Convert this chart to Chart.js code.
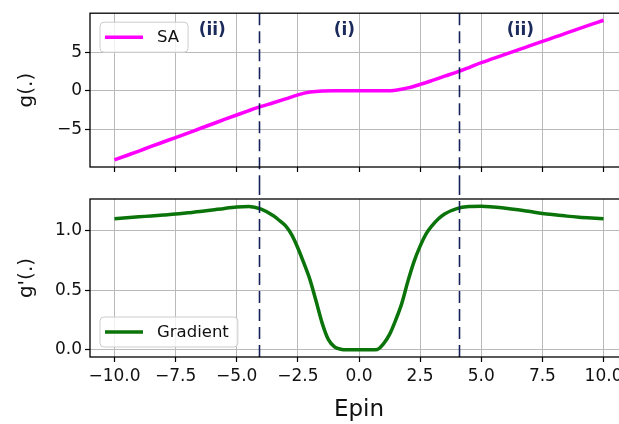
<!DOCTYPE html>
<html>
<head>
<meta charset="utf-8">
<script src="https://cdn.jsdelivr.net/npm/chart.js@4.4.1/dist/chart.umd.min.js"></script>
<style>
  html, body { margin: 0; padding: 0; background: #fff; }
  body { width: 619px; height: 424px; overflow: hidden; position: relative; }
  .panel { position: absolute; left: 0; }
  #top { top: 0; }
  #bottom { top: 183px; }
</style>
</head>
<body>
<div class="panel" id="top"><canvas id="chartTop" width="640" height="183"></canvas></div>
<div class="panel" id="bottom"><canvas id="chartBottom" width="640" height="241"></canvas></div>
<script>
// g(.) - SA, sampled on Epin
const saX = [-10, -9.5, -9, -8.5, -8, -7.5, -7, -6.5, -6, -5.5, -5, -4.5, -4, -3.5, -3, -2.5, -2, -1.5, -1, -0.5,
             0, 0.5, 1, 1.5, 2, 2.5, 3, 3.5, 4, 4.5, 5, 5.5, 6, 6.5, 7, 7.5, 8, 8.5, 9, 9.5, 10];
const saValues = [-8.96, -8.38, -7.8, -7.21, -6.63, -6.05, -5.47, -4.88, -4.3, -3.71, -3.13, -2.56, -2.02, -1.55, -1.05, -0.52, -0.16, -0.02, 0, 0,
                  0, 0, 0.01, 0.09, 0.38, 0.83, 1.35, 1.9, 2.42, 3.02, 3.65, 4.2, 4.75, 5.3, 5.85, 6.4, 6.95, 7.5, 8.05, 8.6, 9.15];

// g'(.) - Gradient (denser where it drops)
const gradX = [-10, -9.5, -9, -8.5, -8, -7.5, -7, -6.5, -6, -5.5, -5, -4.5, -4,
               -3.5, -3.25, -3, -2.75, -2.5, -2.25, -2, -1.75, -1.5, -1.25, -1, -0.75, -0.5,
               0, 0.5,
               0.75, 1, 1.25, 1.5, 1.75, 2, 2.25, 2.5, 2.75, 3, 3.25, 3.5,
               4, 4.5, 5, 5.5, 6, 6.5, 7, 7.5, 8, 8.5, 9, 9.5, 10];
const gradValues = [1.10, 1.108, 1.116, 1.124, 1.132, 1.14, 1.15, 1.16, 1.173, 1.187, 1.198, 1.202, 1.18,
                    1.125, 1.085, 1.04, 0.965, 0.855, 0.725, 0.585, 0.405, 0.22, 0.085, 0.025, 0.005, 0,
                    0, 0,
                    0.003, 0.05, 0.13, 0.25, 0.39, 0.575, 0.74, 0.87, 0.975, 1.045, 1.10, 1.14,
                    1.185, 1.202, 1.205, 1.198, 1.188, 1.175, 1.16, 1.145, 1.133, 1.122, 1.113, 1.106, 1.10];

const xTicks = [-10, -7.5, -5, -2.5, 0, 2.5, 5, 7.5, 10];
const xTickLabels = ['\u221210.0', '\u22127.5', '\u22125.0', '\u22122.5', '0.0', '2.5', '5.0', '7.5', '10.0'];
const topYTicks = [-5, 0, 5];
const topYTickLabels = ['\u22125', '0', '5'];
const bottomYTicks = [0, 0.5, 1];
const bottomYTickLabels = ['0.0', '0.5', '1.0'];

// region boundaries and names
const regionLines = [-4.1, 4.1];
const regionNames = ['(ii)', '(i)', '(ii)'];

const FONT = "'DejaVu Sans', sans-serif";

function pts(xv, yv) {
    return xv.map((x, i) => ({ x: x, y: yv[i] }));
}

const decor = {
    id: 'decor',
    afterDatasetsDraw(chart, args, opts) {
        const { ctx, chartArea: a } = chart;
        const x = chart.scales.x, y = chart.scales.y;
        ctx.save();

        // dashed boundaries, running through the gap between panels
        ctx.strokeStyle = '#14215a';
        ctx.lineWidth = 1.6;
        ctx.setLineDash([12, 6]);
        regionLines.forEach(v => {
            const px = Math.round(x.getPixelForValue(v)) + 0.5;
            ctx.beginPath();
            ctx.moveTo(px, opts.toTop ? 0 : a.top);
            ctx.lineTo(px, opts.toBottom ? chart.height : a.bottom);
            ctx.stroke();
        });
        ctx.setLineDash([]);

        // frame
        ctx.strokeStyle = '#000';
        ctx.lineWidth = 1.3;
        ctx.strokeRect(a.left, a.top, a.width, a.height);

        // region names
        if (opts.notesX) {
            ctx.fillStyle = '#1b2a5c';
            ctx.font = 'bold 17px ' + FONT;
            ctx.textAlign = 'center';
            ctx.textBaseline = 'middle';
            regionNames.forEach((t, i) => {
                ctx.fillText(t, x.getPixelForValue(opts.notesX[i]), y.getPixelForValue(opts.notesY));
            });
        }

        // legend
        const ds = chart.data.datasets[0];
        ctx.font = '16.5px ' + FONT;
        const tw = ctx.measureText(ds.label).width;
        const bw = 57 + tw + 9, bh = 30;
        const bx = a.left + 10;
        const by = opts.legend === 'upper' ? a.top + 9 : a.bottom - 10 - bh;
        ctx.beginPath();
        ctx.roundRect(bx, by, bw, bh, 4);
        ctx.fillStyle = 'rgba(255,255,255,0.8)';
        ctx.fill();
        ctx.strokeStyle = '#cccccc';
        ctx.lineWidth = 1;
        ctx.stroke();
        const cy = by + bh / 2;
        ctx.strokeStyle = ds.borderColor;
        ctx.lineWidth = 3.5;
        ctx.beginPath();
        ctx.moveTo(bx + 5, cy);
        ctx.lineTo(bx + 43, cy);
        ctx.stroke();
        ctx.fillStyle = '#111';
        ctx.textAlign = 'left';
        ctx.textBaseline = 'middle';
        ctx.fillText(ds.label, bx + 57, cy + 1);

        ctx.restore();
    }
};

function xScale(showLabels, height) {
    return {
        type: 'linear',
        min: -11,
        max: 11,
        afterBuildTicks: s => { s.ticks = xTicks.map(v => ({ value: v })); },
        afterFit: s => { s.height = height; },
        grid: { color: '#b9b9b9', lineWidth: 1, tickColor: '#000', tickLength: 5, tickWidth: 1.2 },
        border: { display: false },
        ticks: {
            autoSkip: false,
            maxRotation: 0,
            padding: 4,
            color: '#111',
            font: { family: FONT, size: 17 },
            callback: (v, i) => showLabels ? xTickLabels[i] : ''
        },
        title: showLabels ? {
            display: true,
            text: 'Epin',
            color: '#111',
            font: { family: FONT, size: 23 },
            padding: { top: 0, bottom: 0 }
        } : { display: false }
    };
}

function yScale(min, max, ticks, labels, title) {
    return {
        type: 'linear',
        min: min,
        max: max,
        afterBuildTicks: s => { s.ticks = ticks.map(v => ({ value: v })); },
        afterFit: s => { s.width = 90; },
        grid: { color: '#b9b9b9', lineWidth: 1, tickColor: '#000', tickLength: 5, tickWidth: 1.2 },
        border: { display: false },
        ticks: {
            padding: 3,
            color: '#111',
            font: { family: FONT, size: 17 },
            callback: (v, i) => labels[i]
        },
        title: {
            display: true,
            text: title,
            color: '#111',
            font: { family: FONT, size: 20 },
            padding: { top: 15, bottom: 0 }
        }
    };
}

Chart.defaults.devicePixelRatio = 1;

new Chart(document.getElementById('chartTop'), {
    type: 'line',
    data: {
        datasets: [{
            label: 'SA',
            data: pts(saX, saValues),
            borderColor: '#ff00ff',
            borderWidth: 3.5,
            pointRadius: 0,
            cubicInterpolationMode: 'monotone'
        }]
    },
    options: {
        responsive: false,
        animation: false,
        layout: { padding: { top: 8, right: 12, left: 0, bottom: 0 } },
        scales: {
            x: xScale(false, 16),
            y: yScale(-9.87, 10.06, topYTicks, topYTickLabels, 'g(.)')
        },
        plugins: {
            legend: { display: false },
            tooltip: { enabled: false },
            decor: { legend: 'upper', toBottom: true, notesX: [-6.0, -0.6, 6.6], notesY: 7.8 }
        }
    },
    plugins: [decor]
});

new Chart(document.getElementById('chartBottom'), {
    type: 'line',
    data: {
        datasets: [{
            label: 'Gradient',
            data: pts(gradX, gradValues),
            borderColor: '#0a740a',
            borderWidth: 3.5,
            pointRadius: 0,
            cubicInterpolationMode: 'monotone'
        }]
    },
    options: {
        responsive: false,
        animation: false,
        layout: { padding: { top: 16, right: 12, left: 0, bottom: 0 } },
        scales: {
            x: xScale(true, 67),
            y: yScale(-0.0603, 1.2658, bottomYTicks, bottomYTickLabels, "g'(.)")
        },
        plugins: {
            legend: { display: false },
            tooltip: { enabled: false },
            decor: { legend: 'lower', toTop: true }
        }
    },
    plugins: [decor]
});
</script>
</body>
</html>
